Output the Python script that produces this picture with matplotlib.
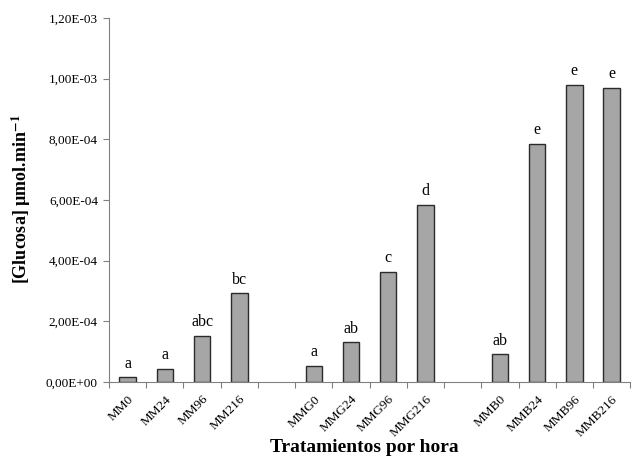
import matplotlib
matplotlib.use("Agg")
import matplotlib.pyplot as plt
import numpy as np
from matplotlib.ticker import FuncFormatter

plt.rcParams["font.family"] = ["Liberation Serif", "DejaVu Serif"]
plt.rcParams["mathtext.fontset"] = "stix"

TRATAMIENTOS = ["MM0", "MM24", "MM96", "MM216", "",
                "MMG0", "MMG24", "MMG96", "MMG216", "",
                "MMB0", "MMB24", "MMB96", "MMB216"]
GLUCOSA = [1.6e-5, 4.4e-5, 1.52e-4, 2.93e-4, None,
           5.4e-5, 1.32e-4, 3.63e-4, 5.84e-4, None,
           9.2e-5, 7.85e-4, 9.8e-4, 9.7e-4]
LETRAS = ["a", "a", "abc", "bc", "",
          "a", "ab", "c", "d", "",
          "ab", "e", "e", "e"]


def fmt_sci(v, pos):
    s = f"{v:.2E}"
    mant, exp = s.split("E")
    sign = exp[0]
    return f"{mant.replace('.', ',')}E{sign}{int(exp[1:]):02d}"


fig = plt.figure(figsize=(6.34, 4.57), dpi=100)
ax = fig.add_axes([0.172, 0.164, 0.822, 0.797])

x = np.arange(len(TRATAMIENTOS))
for i, (v, lab) in enumerate(zip(GLUCOSA, LETRAS)):
    if v is None:
        continue
    ax.bar(i, v, width=0.44, color="#a6a6a6", edgecolor="#2b2b2b", linewidth=1.0)
    ax.text(i, v + 1.8e-5, lab, ha="center", va="bottom", fontsize=11.5)

ax.set_xlim(-0.5, len(TRATAMIENTOS) - 0.5)
ax.set_ylim(0, 1.2e-3)
ax.set_yticks(np.arange(0, 1.21e-3, 2e-4))
ax.yaxis.set_major_formatter(FuncFormatter(fmt_sci))

# ticks between categories, names centred under bars
ax.set_xticks(np.arange(-0.5, len(TRATAMIENTOS), 1.0))
ax.set_xticklabels([])
ax.set_xticks(x, minor=True)
ax.set_xticklabels(TRATAMIENTOS, minor=True, rotation=45, ha="right",
                   rotation_mode="anchor", fontsize=9.5)
ax.tick_params(axis="x", which="minor", length=0, pad=8)
ax.tick_params(axis="x", which="major", length=4, color="#808080", direction="out")
ax.tick_params(axis="y", length=4, color="#808080", labelsize=9.5, pad=4)

for side in ("top", "right"):
    ax.spines[side].set_visible(False)
for side in ("left", "bottom"):
    ax.spines[side].set_color("#808080")

fig.text(0.034, 0.565, r"[Glucosa] µmol.min$^{\mathbf{-1}}$", rotation=90,
         ha="center", va="center", fontsize=13, fontweight="bold")
fig.text(0.575, 0.02, "Tratamientos por hora", ha="center", va="center",
         fontsize=14, fontweight="bold")

fig.savefig("out.png", dpi=100)
